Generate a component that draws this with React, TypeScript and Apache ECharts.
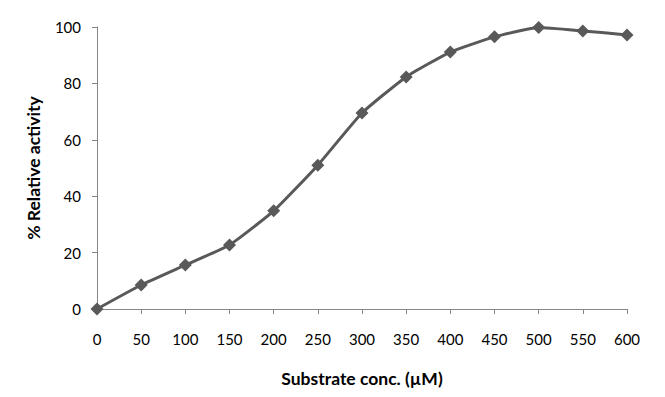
import React, { useEffect, useRef } from "react";
import * as echarts from "echarts";

const concentrations = [0, 50, 100, 150, 200, 250, 300, 350, 400, 450, 500, 550, 600];
const relativeActivity = [0, 8.5, 15.6, 22.7, 34.8, 51, 69.5, 82.3, 91.1, 96.5, 99.8, 98.6, 97.2];
const xTitle = "Substrate conc. (µM)";
const yTitle = "% Relative activity";

export default function App() {
  const ref = useRef<HTMLDivElement>(null);
  useEffect(() => {
    if (!ref.current) return;
    const chart = echarts.init(ref.current, undefined, { renderer: "svg" });
    const font = "Lato, 'Open Sans', sans-serif";
    chart.setOption({
      animation: false,
      backgroundColor: "#ffffff",
      grid: { left: 97, right: 38, top: 27, bottom: 88, containLabel: false },
      xAxis: {
        type: "value",
        min: 0,
        max: 600,
        interval: 50,
        name: xTitle,
        nameLocation: "middle",
        nameGap: 60,
        nameTextStyle: { fontFamily: font, fontWeight: "bold", fontSize: 17.5, color: "#000" },
        axisLine: { show: true, lineStyle: { color: "#868686", width: 1 } },
        axisTick: { show: true, length: 5, lineStyle: { color: "#868686" } },
        axisLabel: { fontFamily: font, fontSize: 15, color: "#000", margin: 22 },
        splitLine: { show: false },
      },
      yAxis: {
        type: "value",
        min: 0,
        max: 100,
        interval: 20,
        name: yTitle,
        nameLocation: "middle",
        nameGap: 55,
        nameRotate: 90,
        nameTextStyle: { fontFamily: font, fontWeight: "bold", fontSize: 17.5, color: "#000" },
        axisLine: { show: true, lineStyle: { color: "#868686", width: 1 } },
        axisTick: { show: true, length: 5, lineStyle: { color: "#868686" } },
        axisLabel: { fontFamily: font, fontSize: 15, color: "#000", margin: 16 },
        splitLine: { show: false },
      },
      series: [
        {
          type: "line",
          data: concentrations.map((c, i) => [c, relativeActivity[i]]),
          smooth: 0.15,
          symbol: "diamond",
          symbolSize: 13,
          itemStyle: { color: "#595959" },
          lineStyle: { color: "#595959", width: 3 },
        },
      ],
    });
    return () => chart.dispose();
  }, []);
  return <div ref={ref} style={{ width: 665, height: 397, position: "absolute", left: 0, top: 0 }} />;
}
